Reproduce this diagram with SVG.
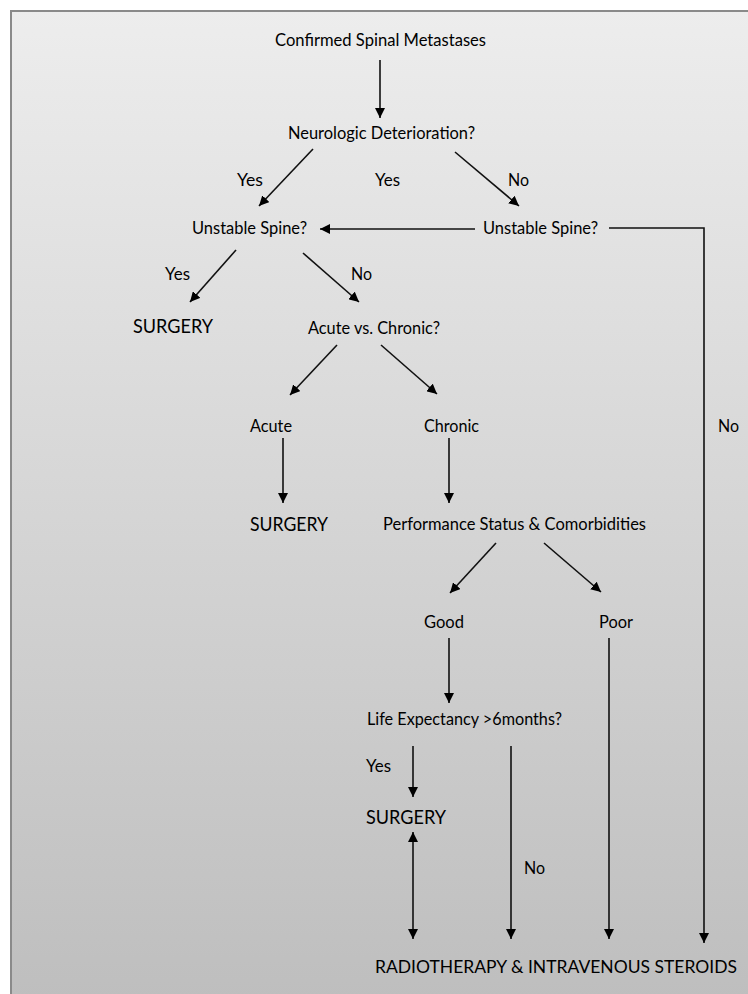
<svg xmlns="http://www.w3.org/2000/svg" width="748" height="994" viewBox="0 0 748 994">
<defs>
<linearGradient id="bg" x1="0" y1="0" x2="0" y2="1">
<stop offset="0" stop-color="#ededed"/>
<stop offset="1" stop-color="#bebebe"/>
</linearGradient>
<marker id="ah" viewBox="0 0 10 10" refX="10" refY="5" markerWidth="10" markerHeight="10" markerUnits="userSpaceOnUse" orient="auto-start-reverse">
<path d="M0,0 L10,5 L0,10 z" fill="#000"/>
</marker>
<style>
text{font-family:Lato,"Liberation Sans",Arial,sans-serif;fill:#000;font-size:17px}
.big{font-size:20px}
.radio{font-size:18px}
.c line,.c polyline{stroke:#111;stroke-width:1.6;fill:none}
.a{marker-end:url(#ah)}
</style>
</defs>
<rect x="0" y="0" width="748" height="994" fill="#fff"/>
<rect x="11" y="11" width="745" height="990" fill="url(#bg)" stroke="#8a8a8a" stroke-width="2"/>
<g class="c" id="connectors">
<line class="a" x1="380" y1="60" x2="380" y2="118"/>
<line class="a" x1="313" y1="149" x2="259" y2="206"/>
<line class="a" x1="455" y1="152" x2="519" y2="206"/>
<line class="a" x1="475" y1="229" x2="320" y2="229"/>
<polyline class="a" points="609,228 704,228 704,943"/>
<line class="a" x1="236" y1="250" x2="190" y2="302"/>
<line class="a" x1="303" y1="253" x2="359" y2="302"/>
<line class="a" x1="337" y1="345" x2="290" y2="395"/>
<line class="a" x1="381" y1="345" x2="437" y2="394"/>
<line class="a" x1="283" y1="438" x2="283" y2="503"/>
<line class="a" x1="449" y1="438" x2="449" y2="503"/>
<line class="a" x1="496" y1="543" x2="450" y2="593"/>
<line class="a" x1="544" y1="543" x2="601" y2="592"/>
<line class="a" x1="449" y1="638" x2="449" y2="703"/>
<line class="a" x1="609" y1="638" x2="609" y2="939"/>
<line class="a" x1="413" y1="746" x2="413" y2="797"/>
<line class="a" x1="511" y1="746" x2="511" y2="939"/>
<line class="a" x1="413" y1="832" x2="413" y2="939" marker-start="url(#ah)"/>
</g>
<g id="n-confirmed"><text x="275" y="46" textLength="211" lengthAdjust="spacingAndGlyphs">Confirmed Spinal Metastases</text></g>
<g id="n-neuro"><text x="288" y="139" textLength="187" lengthAdjust="spacingAndGlyphs">Neurologic Deterioration?</text></g>
<g id="l-yes1"><text x="237" y="186" textLength="26" lengthAdjust="spacingAndGlyphs">Yes</text></g>
<g id="l-yes2"><text x="375" y="186" textLength="25" lengthAdjust="spacingAndGlyphs">Yes</text></g>
<g id="l-no1"><text x="508" y="186" textLength="21" lengthAdjust="spacingAndGlyphs">No</text></g>
<g id="n-unstable1"><text x="192" y="234" textLength="115" lengthAdjust="spacingAndGlyphs">Unstable Spine?</text></g>
<g id="n-unstable2"><text x="483" y="234" textLength="115" lengthAdjust="spacingAndGlyphs">Unstable Spine?</text></g>
<g id="l-no-right"><text x="718" y="432" textLength="21" lengthAdjust="spacingAndGlyphs">No</text></g>
<g id="l-yes3"><text x="165" y="280" textLength="25" lengthAdjust="spacingAndGlyphs">Yes</text></g>
<g id="l-no2"><text x="351" y="280" textLength="21" lengthAdjust="spacingAndGlyphs">No</text></g>
<g id="n-surgery1"><text class="big" x="133" y="333" textLength="80" lengthAdjust="spacingAndGlyphs">SURGERY</text></g>
<g id="n-acutechronic"><text x="308" y="334" textLength="132" lengthAdjust="spacingAndGlyphs">Acute vs. Chronic?</text></g>
<g id="n-acute"><text x="250" y="432" textLength="42" lengthAdjust="spacingAndGlyphs">Acute</text></g>
<g id="n-chronic"><text x="424" y="432" textLength="55" lengthAdjust="spacingAndGlyphs">Chronic</text></g>
<g id="n-surgery2"><text class="big" x="250" y="531" textLength="78" lengthAdjust="spacingAndGlyphs">SURGERY</text></g>
<g id="n-performance"><text x="383" y="530" textLength="263" lengthAdjust="spacingAndGlyphs">Performance Status &amp; Comorbidities</text></g>
<g id="n-good"><text x="424" y="628" textLength="40" lengthAdjust="spacingAndGlyphs">Good</text></g>
<g id="n-poor"><text x="599" y="628" textLength="34" lengthAdjust="spacingAndGlyphs">Poor</text></g>
<g id="n-life"><text x="367" y="725" textLength="195" lengthAdjust="spacingAndGlyphs">Life Expectancy &gt;6months?</text></g>
<g id="l-yes4"><text x="366" y="772" textLength="25" lengthAdjust="spacingAndGlyphs">Yes</text></g>
<g id="n-surgery3"><text class="big" x="366" y="824" textLength="80" lengthAdjust="spacingAndGlyphs">SURGERY</text></g>
<g id="l-no3"><text x="524" y="874" textLength="21" lengthAdjust="spacingAndGlyphs">No</text></g>
<g id="n-radio"><text class="radio" x="375" y="973" textLength="362" lengthAdjust="spacingAndGlyphs">RADIOTHERAPY &amp; INTRAVENOUS STEROIDS</text></g>
</svg>
